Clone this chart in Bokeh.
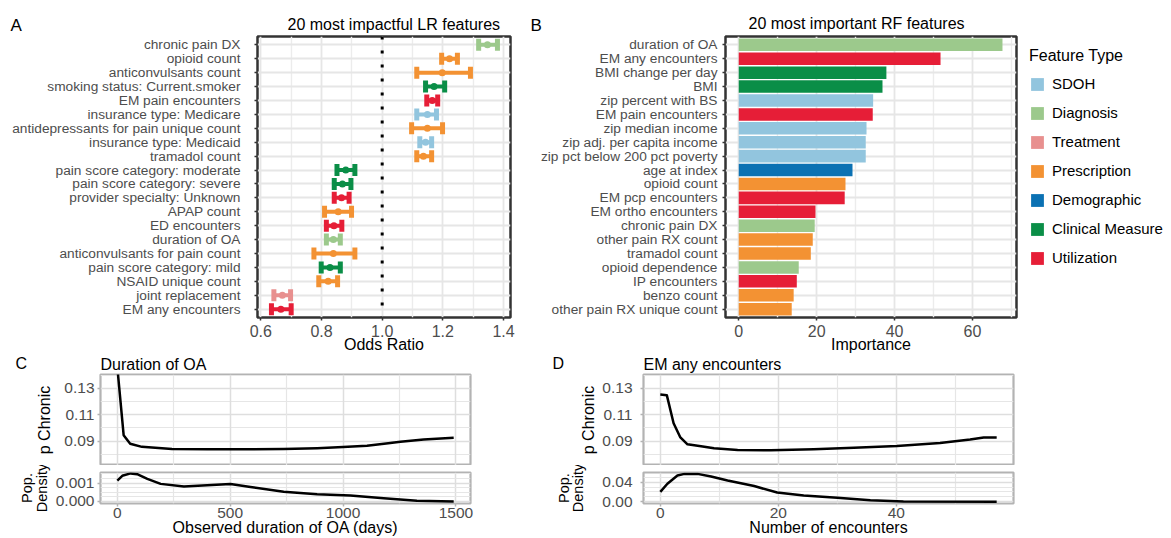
from bokeh.plotting import figure
from bokeh.models import (ColumnDataSource, FactorRange, Range1d, FixedTicker,
                          PrintfTickFormatter, Span, Label, Legend, LegendItem, Grid)
from bokeh.layouts import row, column
from bokeh.embed import file_html
from bokeh.resources import INLINE

FONT = "Liberation Sans"

# ---------------- data ----------------
feature_types = ["SDOH", "Diagnosis", "Treatment", "Prescription", "Demographic",
                 "Clinical Measure", "Utilization"]
type_colors = ["#92c5de", "#9cc98c", "#e8908f", "#f39233", "#0b71b3", "#0a8e47", "#e61e37"]

lr_features = ["chronic pain DX", "opioid count", "anticonvulsants count",
               "smoking status: Current.smoker", "EM pain encounters",
               "insurance type: Medicare", "antidepressants for pain unique count",
               "insurance type: Medicaid", "tramadol count",
               "pain score category: moderate", "pain score category: severe",
               "provider specialty: Unknown", "APAP count", "ED encounters",
               "duration of OA", "anticonvulsants for pain count",
               "pain score category: mild", "NSAID unique count", "joint replacement",
               "EM any encounters"]
lr_types = ["Diagnosis", "Prescription", "Prescription", "Clinical Measure", "Utilization",
            "SDOH", "Prescription", "SDOH", "Prescription", "Clinical Measure",
            "Clinical Measure", "Utilization", "Prescription", "Utilization", "Diagnosis",
            "Prescription", "Clinical Measure", "Prescription", "Treatment", "Utilization"]
lr_odds = [1.347, 1.222, 1.198, 1.171, 1.165, 1.149, 1.149, 1.143, 1.136, 0.880,
           0.869, 0.866, 0.855, 0.841, 0.839, 0.839, 0.828, 0.822, 0.671, 0.666]
lr_lower = [1.318, 1.196, 1.114, 1.143, 1.147, 1.114, 1.097, 1.124, 1.114, 0.851,
            0.842, 0.842, 0.810, 0.816, 0.816, 0.775, 0.799, 0.791, 0.643, 0.635]
lr_upper = [1.380, 1.248, 1.291, 1.206, 1.183, 1.179, 1.199, 1.163, 1.163, 0.910,
            0.897, 0.891, 0.899, 0.867, 0.862, 0.910, 0.862, 0.853, 0.698, 0.700]

rf_features = ["duration of OA", "EM any encounters", "BMI change per day", "BMI",
               "zip percent with BS", "EM pain encounters", "zip median income",
               "zip adj. per capita income", "zip pct below 200 pct poverty",
               "age at index", "opioid count", "EM pcp encounters", "EM ortho encounters",
               "chronic pain DX", "other pain RX count", "tramadol count",
               "opioid dependence", "IP encounters", "benzo count",
               "other pain RX unique count"]
rf_types = ["Diagnosis", "Utilization", "Clinical Measure", "Clinical Measure", "SDOH",
            "Utilization", "SDOH", "SDOH", "SDOH", "Demographic", "Prescription",
            "Utilization", "Utilization", "Diagnosis", "Prescription", "Prescription",
            "Diagnosis", "Utilization", "Prescription", "Prescription"]
rf_importance = [67.7, 51.8, 37.9, 36.9, 34.5, 34.4, 32.8, 32.6, 32.6, 29.2,
                 27.4, 27.2, 19.7, 19.5, 19.0, 18.5, 15.4, 14.9, 14.1, 13.6]

dur_days = [0, 28, 57, 109, 242, 400, 560, 737, 885, 1000, 1106, 1200, 1254, 1357, 1490]
dur_p_chronic = [0.146, 0.0945, 0.0881, 0.0857, 0.0841, 0.0838, 0.0838, 0.0840, 0.0847,
                 0.0855, 0.0866, 0.0885, 0.0896, 0.0913, 0.0926]
dur_dens_days = [0, 22, 59, 88, 133, 192, 295, 398, 501, 590, 737, 885, 1032, 1180, 1327, 1490]
dur_density = [0.00114, 0.00140, 0.00153, 0.00149, 0.00123, 0.00096, 0.00082, 0.00088,
               0.00095, 0.00079, 0.00053, 0.00040, 0.00032, 0.00018, 0.00004, 0.0]

enc_n = [0, 1.1, 2.25, 3.4, 4.6, 6.9, 9.1, 13.1, 18.7, 26, 32.8, 40.1, 47.4, 52.5, 54.8, 57]
enc_p_chronic = [0.1253, 0.1248, 0.1035, 0.0928, 0.0876, 0.0862, 0.0846, 0.0834, 0.0831,
                 0.0838, 0.0850, 0.0864, 0.0886, 0.0912, 0.0928, 0.0928]
enc_dens_n = [0, 1.2, 2.9, 4.1, 6.3, 8.6, 11.4, 15.9, 19.8, 24.3, 30, 35.6, 41.2, 57]
enc_density = [0.020, 0.0367, 0.0533, 0.0567, 0.0567, 0.0513, 0.0433, 0.032, 0.0187,
               0.0127, 0.008, 0.0033, 0.0007, 0.0]

color_of = dict(zip(feature_types, type_colors))


# ---------------- helpers ----------------
def mkfig(w, h, l, r, t, b, xr, yr, **kw):
    p = figure(width=w, height=h, x_range=xr, y_range=yr, output_backend="svg",
               toolbar_location=None, min_border_left=l, min_border_right=r,
               min_border_top=t, min_border_bottom=b, **kw)
    p.background_fill_color = "white"
    p.border_fill_color = "white"
    return p


def blank(width, height):
    h = figure(width=width, height=height, x_range=Range1d(0, width), y_range=Range1d(0, height),
               x_axis_location=None, y_axis_location=None, output_backend="svg",
               toolbar_location=None, min_border_left=0, min_border_right=0,
               min_border_top=0, min_border_bottom=0)
    h.outline_line_color = None
    h.grid.visible = False
    h.background_fill_color = "white"
    h.border_fill_color = "white"
    return h


def style_axis(ax, tick_color, size, standoff, tick_out=3, tick_w=1.5):
    ax.axis_line_color = None
    ax.major_tick_line_color = tick_color
    ax.major_tick_line_width = tick_w
    ax.major_tick_out = tick_out
    ax.major_tick_in = 0
    ax.minor_tick_line_color = None
    ax.major_label_text_font = FONT
    ax.major_label_text_font_size = size
    ax.major_label_text_color = "#4d4d4d"
    ax.major_label_standoff = standoff
    ax.axis_label_text_font = FONT
    ax.axis_label_text_font_size = "16px"
    ax.axis_label_text_font_style = "normal"
    ax.axis_label_text_color = "black"


def header(width, height, texts):
    h = blank(width, height)
    for x, y, text, size in texts:
        h.add_layout(Label(x=x, y=y, x_units="screen", y_units="screen", text=text,
                           text_font=FONT, text_font_size=size, text_align="left",
                           text_baseline="middle", text_color="black"))
    return h


# ---------------- header above A / B ----------------
head_top = header(1171, 34, [
    (10, 9.5, "A", "17px"),
    (287, 10.5, "20 most impactful LR features", "16px"),
    (530, 9.5, "B", "17px"),
    (748, 11.5, "20 most important RF features", "16px"),
])

# ---------------- panel A ----------------
pA = mkfig(520, 321, 257, 10, 0, 33, Range1d(0.589, 1.423),
           FactorRange(factors=lr_features[::-1], range_padding=0.1,
                       range_padding_units="absolute"))
pA.outline_line_color = "#333333"
pA.outline_line_width = 2.5
pA.xgrid.grid_line_color = "#e6e6e6"
pA.xgrid.grid_line_width = 1.8
pA.xgrid.minor_grid_line_color = "#ececec"
pA.xgrid.minor_grid_line_width = 1.4
pA.ygrid.grid_line_color = "#e6e6e6"
pA.ygrid.grid_line_width = 1.8
pA.xaxis.ticker = FixedTicker(ticks=[0.6, 0.8, 1.0, 1.2, 1.4], minor_ticks=[0.7, 0.9, 1.1, 1.3])
pA.xaxis.formatter = PrintfTickFormatter(format="%.1f")
style_axis(pA.xaxis[0], "#333333", "16px", 3)
style_axis(pA.yaxis[0], "#333333", "13.7px", 14)
pA.xaxis.axis_label = "Odds Ratio"
pA.xaxis.axis_label_standoff = -4

srcA = ColumnDataSource(dict(feature=lr_features, ftype=lr_types, odds=lr_odds,
                             lo=lr_lower, hi=lr_upper,
                             color=[color_of[t] for t in lr_types]))
pA.add_layout(Span(location=1.0, dimension="height", line_color="black",
                   line_width=3, line_dash="3 11"))
pA.segment(x0="lo", y0="feature", x1="hi", y1="feature", line_color="color",
           line_width=4, source=srcA)
pA.rect(x="lo", y="feature", width=5, height=12, width_units="screen",
        height_units="screen", fill_color="color", line_color=None, source=srcA)
pA.rect(x="hi", y="feature", width=5, height=12, width_units="screen",
        height_units="screen", fill_color="color", line_color=None, source=srcA)
pA.scatter(x="odds", y="feature", size=7, fill_color="color", line_color=None, source=srcA)

# ---------------- panel B ----------------
pB = mkfig(498, 321, 205, 2, 2, 33, Range1d(-3.4, 71.3),
           FactorRange(factors=rf_features[::-1], range_padding=0.1,
                       range_padding_units="absolute"))
pB.outline_line_color = "#333333"
pB.outline_line_width = 2.5
pB.xgrid.grid_line_color = "#e6e6e6"
pB.xgrid.grid_line_width = 1.8
pB.xgrid.minor_grid_line_color = "#ececec"
pB.xgrid.minor_grid_line_width = 1.4
pB.ygrid.grid_line_color = "#e6e6e6"
pB.ygrid.grid_line_width = 1.8
pB.xaxis.ticker = FixedTicker(ticks=[0, 20, 40, 60], minor_ticks=[10, 30, 50, 70])
style_axis(pB.xaxis[0], "#333333", "16px", 3)
style_axis(pB.yaxis[0], "#333333", "13.7px", 5)
pB.xaxis.axis_label = "Importance"
pB.xaxis.axis_label_standoff = -4

srcB = ColumnDataSource(dict(feature=rf_features, ftype=rf_types, imp=rf_importance,
                             color=[color_of[t] for t in rf_types]))
pB.hbar(y="feature", left=0, right="imp", height=0.9, fill_color="color",
        line_color=None, source=srcB)

# ---------------- legend panel (feature-type keys) ----------------
pL = blank(153, 321)
all_types = lr_types + rf_types
all_values = lr_odds + rf_importance
key_renderers = {}
for t in feature_types:
    idx = [i for i, ft in enumerate(all_types) if ft == t]
    src = ColumnDataSource(dict(pos=list(range(len(idx))),
                                val=[all_values[i] for i in idx]))
    key_renderers[t] = pL.hbar(y="pos", left=0, right="val", height=0,
                               fill_color=color_of[t], line_color=None, source=src)
legend = Legend(items=[LegendItem(label=t, renderers=[key_renderers[t]]) for t in feature_types],
                location=(11, 51), title="Feature Type", glyph_width=16, glyph_height=16,
                label_height=16, spacing=12, label_standoff=7, padding=0, margin=0,
                title_standoff=10, label_text_font=FONT, label_text_font_size="15px",
                label_text_color="black", title_text_font=FONT, title_text_font_size="16px",
                title_text_font_style="normal", title_text_color="black",
                background_fill_alpha=0, border_line_color=None)
pL.add_layout(legend)

# ---------------- header above C / D ----------------
head_bot = header(1171, 18, [
    (15, 10, "C", "16px"),
    (100, 9.5, "Duration of OA", "16px"),
    (552, 10, "D", "16px"),
    (643, 9.5, "EM any encounters", "16px"),
])


# ---------------- panels C / D ----------------
def curve_pair(width, left, right, xr, xs, ps, dxs, ds, x_ticks, x_minor,
               d_range, d_ticks, d_minor, d_fmt, xlabel, std, ax_up, ax_low):
    up = mkfig(width, 92, left, right, 1, 0, xr, Range1d(0.0716, 0.1404),
               x_axis_location=None)
    up.center = [r for r in up.center if not (isinstance(r, Grid) and r.dimension == 0)]
    up.add_layout(Grid(dimension=0, ticker=FixedTicker(ticks=x_ticks, minor_ticks=x_minor),
                       grid_line_color="#dedede", grid_line_width=1.5,
                       minor_grid_line_color="#e6e6e6", minor_grid_line_width=1.2))
    up.yaxis.ticker = FixedTicker(ticks=[0.09, 0.11, 0.13], minor_ticks=[0.08, 0.10, 0.12, 0.14])
    up.yaxis.formatter = PrintfTickFormatter(format="%.2f")
    up.ygrid.grid_line_color = "#dedede"
    up.ygrid.grid_line_width = 1.5
    up.ygrid.minor_grid_line_color = "#e6e6e6"
    up.ygrid.minor_grid_line_width = 1.2
    style_axis(up.yaxis[0], "#b3b3b3", "15.5px", std)
    up.yaxis.axis_label = "p Chronic"
    up.yaxis.axis_label_standoff = ax_up
    up.outline_line_color = "#b3b3b3"
    up.outline_line_width = 2.2
    up.line(xs, ps, line_color="black", line_width=2.5, line_join="round")

    low = mkfig(width, 73, left, right, 7, 34, xr, d_range)
    low.xaxis.ticker = FixedTicker(ticks=x_ticks, minor_ticks=x_minor)
    low.yaxis.ticker = FixedTicker(ticks=d_ticks, minor_ticks=d_minor)
    low.yaxis.formatter = PrintfTickFormatter(format=d_fmt)
    for g in (low.xgrid, low.ygrid):
        g.grid_line_color = "#dedede"
        g.grid_line_width = 1.5
        g.minor_grid_line_color = "#e6e6e6"
        g.minor_grid_line_width = 1.2
    style_axis(low.xaxis[0], "#b3b3b3", "15.5px", 0)
    style_axis(low.yaxis[0], "#b3b3b3", "15.5px", std)
    low.xaxis.axis_label = xlabel
    low.xaxis.axis_label_standoff = -2
    low.yaxis.axis_label = "Pop.\nDensity"
    low.yaxis.axis_label_text_font_size = "14.5px"
    low.yaxis.axis_label_text_line_height = 0.9
    low.yaxis.axis_label_standoff = ax_low
    low.outline_line_color = "#b3b3b3"
    low.outline_line_width = 2.2
    low.line(dxs, ds, line_color="black", line_width=2.5, line_join="round")
    return column(up, low)


colC = curve_pair(520, 100, 50, Range1d(-74.5, 1564.5), dur_days, dur_p_chronic,
                  dur_dens_days, dur_density, [0, 500, 1000, 1500], [250, 750, 1250],
                  Range1d(-0.00011, 0.00158), [0.0, 0.001],
                  [0.00025, 0.0005, 0.00075, 0.00125, 0.0015], "%.3f",
                  "Observed duration of OA (days)", 2, 8, 3)
colD = curve_pair(520, 123, 27, Range1d(-2.85, 59.85), enc_n, enc_p_chronic,
                  enc_dens_n, enc_density, [0, 20, 40], [10, 30, 50],
                  Range1d(-0.0035, 0.0595), [0.0, 0.04], [0.01, 0.02, 0.03, 0.05], "%.2f",
                  "Number of encounters", 7, 2, 13)

layout = column(head_top, row(pA, pB, pL), head_bot, row(colC, colD))
open("out.html", "w").write(file_html(layout, INLINE))
